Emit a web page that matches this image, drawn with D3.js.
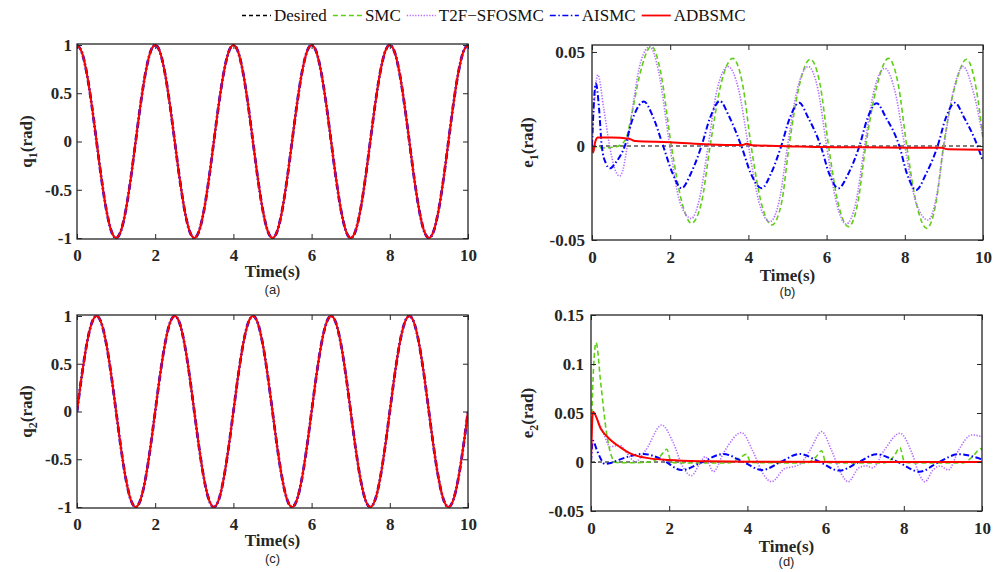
<!DOCTYPE html>
<html>
<head>
<meta charset="utf-8">
<script src="https://cdn.jsdelivr.net/npm/d3@7"></script>
<style>
  body { margin: 0; background: #fff; }
  svg { display: block; }
  .axis text { font-family: "Liberation Serif", "Times New Roman", serif; font-weight: bold; font-size: 17px; fill: #262626; }
  .axis line { stroke: #262626; stroke-width: 1; }
  .axis .domain { display: none; }
  .ylabel, .xlabel { font-family: "Liberation Serif", "Times New Roman", serif; font-weight: bold; font-size: 17px; fill: #262626; }
  .tag { font-family: "Liberation Sans", Arial, sans-serif; font-size: 13px; fill: #262626; }
  .legend text { font-family: "Liberation Serif", "Times New Roman", serif; font-size: 17px; fill: #111; }
</style>
</head>
<body>
<div id="chart"></div>
<script>
/* Series names and styles. */
const seriesNames = ["Desired", "SMC", "T2F\u2212SFOSMC", "AISMC", "ADBSMC"]
const seriesColors = ["#000000", "#5fcf16", "#b46cff", "#0000ff", "#ff0000"]
const seriesDash = ["4,3", "5,3", "1.3,1.5", "6,2.5,1.5,2.5", null]
const seriesWidth = [1.2, 1.6, 1.6, 2, 2]

/* Ticks. */
const timeTicks = [0, 2, 4, 6, 8, 10]
const qTicks = [-1, -0.5, 0, 0.5, 1]
const e1Ticks = [-0.05, 0, 0.05]
const e2Ticks = [-0.05, 0, 0.05, 0.1, 0.15]

const qTime = [
  0, 0.125, 0.25, 0.375, 0.5, 0.625, 0.75, 0.875, 1, 1.125, 1.25, 1.375, 1.5, 1.625, 1.75, 1.875,
  2, 2.125, 2.25, 2.375, 2.5, 2.625, 2.75, 2.875, 3, 3.125, 3.25, 3.375, 3.5, 3.625, 3.75, 3.875,
  4, 4.125, 4.25, 4.375, 4.5, 4.625, 4.75, 4.875, 5, 5.125, 5.25, 5.375, 5.5, 5.625, 5.75, 5.875,
  6, 6.125, 6.25, 6.375, 6.5, 6.625, 6.75, 6.875, 7, 7.125, 7.25, 7.375, 7.5, 7.625, 7.75, 7.875,
  8, 8.125, 8.25, 8.375, 8.5, 8.625, 8.75, 8.875, 9, 9.125, 9.25, 9.375, 9.5, 9.625, 9.75, 9.875, 10]
const q1Values = [
  1, 0.924, 0.707, 0.383, 0, -0.383, -0.707, -0.924, -1, -0.924, -0.707, -0.383, 0, 0.383, 0.707, 0.924,
  1, 0.924, 0.707, 0.383, 0, -0.383, -0.707, -0.924, -1, -0.924, -0.707, -0.383, 0, 0.383, 0.707, 0.924,
  1, 0.924, 0.707, 0.383, 0, -0.383, -0.707, -0.924, -1, -0.924, -0.707, -0.383, 0, 0.383, 0.707, 0.924,
  1, 0.924, 0.707, 0.383, 0, -0.383, -0.707, -0.924, -1, -0.924, -0.707, -0.383, 0, 0.383, 0.707, 0.924,
  1, 0.924, 0.707, 0.383, 0, -0.383, -0.707, -0.924, -1, -0.924, -0.707, -0.383, 0, 0.383, 0.707, 0.924, 1]
const q2Values = [
  0, 0.383, 0.707, 0.924, 1, 0.924, 0.707, 0.383, 0, -0.383, -0.707, -0.924, -1, -0.924, -0.707, -0.383,
  0, 0.383, 0.707, 0.924, 1, 0.924, 0.707, 0.383, 0, -0.383, -0.707, -0.924, -1, -0.924, -0.707, -0.383,
  0, 0.383, 0.707, 0.924, 1, 0.924, 0.707, 0.383, 0, -0.383, -0.707, -0.924, -1, -0.924, -0.707, -0.383,
  0, 0.383, 0.707, 0.924, 1, 0.924, 0.707, 0.383, 0, -0.383, -0.707, -0.924, -1, -0.924, -0.707, -0.383,
  0, 0.383, 0.707, 0.924, 1, 0.924, 0.707, 0.383, 0, -0.383, -0.707, -0.924, -1, -0.924, -0.707, -0.383, 0]

/* Tracking error e1 as [time, value] points (panel b). */
const e1Desired = [[0, 0], [10, 0]]
const e1SMC = [[0, 0], [0.3, -0.001], [0.6, -0.0005], [0.85, 0.003], [1.0, 0.015], [1.2, 0.036], [1.52, 0.053],
  [1.75, 0.04], [2.03, 0], [2.3, -0.03], [2.54, -0.0411], [2.8, -0.03], [3.02, 0], [3.3, 0.033], [3.6, 0.0466],
  [3.85, 0.033], [4.07, 0], [4.35, -0.032], [4.6, -0.042], [4.85, -0.03], [5.04, 0], [5.3, 0.032], [5.58, 0.0461],
  [5.83, 0.033], [6.05, 0], [6.3, -0.031], [6.56, -0.0429], [6.8, -0.03], [7.0, 0], [7.3, 0.033], [7.58, 0.0466],
  [7.83, 0.033], [8.05, 0], [8.3, -0.031], [8.56, -0.0438], [8.8, -0.03], [8.99, 0], [9.3, 0.033], [9.58, 0.0461],
  [9.83, 0.03], [10, 0.004]]
const e1T2F = [[0, 0], [0.05, 0.02], [0.15, 0.0378], [0.3, 0.02], [0.45, 0], [0.58, -0.012], [0.71, -0.016],
  [0.8, -0.012], [0.9, 0], [1.05, 0.022], [1.25, 0.045], [1.48, 0.0528], [1.7, 0.04], [1.99, 0], [2.25, -0.03],
  [2.54, -0.0385], [2.75, -0.028], [2.97, 0], [3.2, 0.03], [3.48, 0.0422], [3.75, 0.03], [4.0, 0], [4.3, -0.032],
  [4.55, -0.0403], [4.8, -0.028], [5.0, 0], [5.25, 0.03], [5.53, 0.0422], [5.78, 0.03], [6.0, 0], [6.25, -0.03],
  [6.5, -0.0415], [6.75, -0.03], [6.97, 0], [7.22, 0.03], [7.49, 0.0413], [7.75, 0.029], [8.0, 0], [8.3, -0.031],
  [8.6, -0.0394], [8.8, -0.028], [9.0, 0], [9.25, 0.03], [9.49, 0.0422], [9.75, 0.029], [10, 0.0044]]
const e1AISMC = [[0, 0], [0.04, 0.02], [0.1, 0.0333], [0.18, 0.02], [0.25, 0], [0.35, -0.009], [0.46, -0.0119],
  [0.6, -0.009], [0.84, 0], [1.05, 0.015], [1.33, 0.0236], [1.55, 0.016], [1.82, 0], [2.05, -0.014], [2.29, -0.0225],
  [2.52, -0.015], [2.8, 0], [3.02, 0.015], [3.27, 0.0239], [3.5, 0.016], [3.82, 0], [4.07, -0.015], [4.34, -0.0225],
  [4.57, -0.015], [4.84, 0], [5.06, 0.015], [5.3, 0.023], [5.53, 0.015], [5.85, 0], [6.07, -0.015], [6.3, -0.0225],
  [6.55, -0.015], [6.84, 0], [7.05, 0.015], [7.28, 0.0227], [7.52, 0.015], [7.86, 0], [8.06, -0.015], [8.29, -0.0234],
  [8.54, -0.015], [8.84, 0], [9.05, 0.015], [9.28, 0.023], [9.52, 0.015], [9.86, 0], [10, -0.0083]]
const e1ADBSMC = [[0, 0], [0.03, -0.0035], [0.08, 0.002], [0.15, 0.0045], [0.5, 0.0045], [0.95, 0.0038],
  [1.1, 0.0026], [2, 0.002], [3, 0.0008], [3.85, 0.0005], [3.95, 0.0012], [4.1, 0.0004], [5, -0.0001],
  [6, -0.0006], [7, -0.0007], [8, -0.0009], [8.95, -0.001], [9.1, -0.0018], [10, -0.002]]

/* Tracking error e2 as [time, value] points (panel d). */
const e2Desired = [[0, 0], [10, 0]]
const e2SMC = [[0, 0], [0.03, 0.06], [0.13, 0.1218], [0.25, 0.08], [0.4, 0.029], [0.53, 0.0054], [0.65, -0.0005],
  [1.0, -0.0008], [1.5, 0], [1.75, 0.005], [1.94, 0.013], [2.05, 0], [2.2, -0.001], [3.5, -0.001], [3.8, 0.004],
  [3.98, 0.008], [4.08, -0.0005], [5.5, -0.001], [5.75, 0.005], [5.9, 0.0115], [6.0, 0], [6.2, -0.001],
  [7.5, -0.001], [7.75, 0.006], [7.9, 0.0146], [8.02, 0], [8.2, -0.001], [9.5, -0.001], [9.75, 0.005],
  [9.97, 0.0136], [10, 0.012]]
const e2T2F = [[0, 0], [0.04, 0.05], [0.1, 0.048], [0.32, 0.029], [0.49, 0.0156], [0.74, 0.017], [0.9, 0.01],
  [1.13, 0.0003], [1.4, 0.012], [1.81, 0.0378], [2.1, 0.02], [2.35, -0.005], [2.57, -0.014], [2.75, -0.004],
  [2.92, 0.0054], [3.13, -0.0099], [3.4, 0.01], [3.85, 0.03], [4.15, 0.01], [4.4, -0.012], [4.62, -0.0201],
  [4.96, -0.0065], [5.15, -0.005], [5.35, -0.002], [5.6, 0.012], [5.9, 0.031], [6.15, 0.012], [6.4, -0.012],
  [6.58, -0.0201], [6.85, -0.006], [7.05, -0.004], [7.2, -0.006], [7.5, 0.012], [7.9, 0.0293], [8.2, 0.01],
  [8.4, -0.013], [8.54, -0.0201], [8.75, -0.008], [8.93, -0.0041], [9.14, -0.0082], [9.4, 0.012], [9.74, 0.0276],
  [10, 0.0259]]
const e2AISMC = [[0, 0], [0.05, 0.0218], [0.15, 0.012], [0.36, -0.002], [0.5, -0.001], [0.66, 0.0014], [1.0, 0.006],
  [1.34, 0.0082], [1.8, 0.003], [2.32, -0.0082], [2.85, 0], [3.38, 0.0082], [3.9, 0], [4.37, -0.0082], [4.85, 0],
  [5.33, 0.0082], [5.85, 0], [6.35, -0.0088], [6.85, 0], [7.3, 0.0079], [7.85, 0], [8.4, -0.0099], [8.9, 0],
  [9.4, 0.0079], [10, 0.0027]]
const e2ADBSMC = [[0, 0], [0.05, 0.0514], [0.25, 0.034], [0.5, 0.0224], [0.75, 0.015], [1, 0.0088], [1.5, 0.0037],
  [2, 0.002], [3, 0.0007], [4, 0.0002], [10, 0]]

/* Build [time, value] pairs for the joint curves. */
const zipTime = (values) => qTime.map((t, i) => [t, values[i]])
const q1Curve = zipTime(q1Values)
const q2Curve = zipTime(q2Values)

/* Define the four panels. */
const panels = [
  { tag: "(a)", sub: "1", letter: "q", left: 77, right: 468, top: 44, bottom: 239, yDomain: [-1.01, 1.01],
    yTicks: qTicks, pad: 5, tickPad: 10, timeOff: 38, tagOff: 55, q: true,
    data: [q1Curve, q1Curve, q1Curve, q1Curve, q1Curve] },
  { tag: "(b)", sub: "1", letter: "e", left: 592, right: 983, top: 45, bottom: 240, yDomain: [-0.05, 0.0537],
    yTicks: e1Ticks, pad: 7, tickPad: 11, timeOff: 41, tagOff: 56, q: false,
    data: [e1Desired, e1SMC, e1T2F, e1AISMC, e1ADBSMC] },
  { tag: "(c)", sub: "2", letter: "q", left: 77, right: 468, top: 315, bottom: 508, yDomain: [-1.01, 1.01],
    yTicks: qTicks, pad: 5, tickPad: 10, timeOff: 38, tagOff: 55, q: true,
    data: [q2Curve, q2Curve, q2Curve, q2Curve, q2Curve] },
  { tag: "(d)", sub: "2", letter: "e", left: 591, right: 982, top: 315, bottom: 511, yDomain: [-0.05, 0.15],
    yTicks: e2Ticks, pad: 7, tickPad: 11, timeOff: 41, tagOff: 55, q: false,
    data: [e2Desired, e2SMC, e2T2F, e2AISMC, e2ADBSMC] }
]

/* Create svg-element. */
const svg = d3.select("#chart")
  .append("svg")
  .attr("width", 1001)
  .attr("height", 572)

svg.append("rect").attr("width", 1001).attr("height", 572).attr("fill", "#fff")

/* Draw one panel. */
const drawPanel = (p, idx) => {
  const x = d3.scaleLinear().domain([0, 10]).range([p.left, p.right])
  const y = d3.scaleLinear().domain(p.yDomain).range([p.bottom, p.top])
  const fmt = (d) => String(d)

  const clipId = "clip" + idx
  svg.append("clipPath").attr("id", clipId)
    .append("rect")
    .attr("x", p.left).attr("y", p.top)
    .attr("width", p.right - p.left).attr("height", p.bottom - p.top)

  /* Curves. */
  const line = d3.line()
    .x(d => x(d[0]))
    .y(d => y(d[1]))
    .curve(d3.curveMonotoneX)

  const g = svg.append("g").attr("clip-path", `url(#${clipId})`)
  p.data.forEach((series, i) => {
    let w = seriesWidth[i]
    if (p.q && i == 3) w = 2.8
    g.append("path")
      .datum(series)
      .attr("fill", "none")
      .attr("stroke", seriesColors[i])
      .attr("stroke-width", w)
      .attr("stroke-dasharray", seriesDash[i])
      .attr("d", line)
  })

  /* Axes with inward ticks on all four sides. */
  svg.append("g").attr("class", "axis")
    .attr("transform", `translate(0,${p.bottom})`)
    .call(d3.axisBottom(x).tickValues(timeTicks).tickFormat(fmt).tickSize(-5).tickPadding(p.tickPad))
  svg.append("g").attr("class", "axis")
    .attr("transform", `translate(0,${p.top})`)
    .call(d3.axisTop(x).tickValues(timeTicks).tickFormat("").tickSize(-5))
  svg.append("g").attr("class", "axis")
    .attr("transform", `translate(${p.left},0)`)
    .call(d3.axisLeft(y).tickValues(p.yTicks).tickFormat(fmt).tickSize(-5).tickPadding(p.pad))
  svg.append("g").attr("class", "axis")
    .attr("transform", `translate(${p.right},0)`)
    .call(d3.axisRight(y).tickValues(p.yTicks).tickFormat("").tickSize(-5))

  svg.append("rect")
    .attr("x", p.left).attr("y", p.top)
    .attr("width", p.right - p.left).attr("height", p.bottom - p.top)
    .attr("fill", "none")
    .attr("stroke", "#262626")
    .attr("stroke-width", 1.3)

  /* Axis labels. */
  const midX = (p.left + p.right) / 2
  const midY = (p.top + p.bottom) / 2
  svg.append("text").attr("class", "xlabel")
    .attr("x", midX).attr("y", p.bottom + p.timeOff)
    .attr("text-anchor", "middle")
    .text("Time(s)")
  svg.append("text").attr("class", "tag")
    .attr("x", midX).attr("y", p.bottom + p.tagOff)
    .attr("text-anchor", "middle")
    .text(p.tag)

  const labelX = p.q ? 32 : 533
  const yl = svg.append("text").attr("class", "ylabel")
    .attr("transform", `translate(${labelX},${midY}) rotate(-90)`)
    .attr("text-anchor", "middle")
  yl.append("tspan").text(p.letter)
  yl.append("tspan").attr("font-size", "12px").attr("dy", 5).text(p.sub)
  yl.append("tspan").attr("dy", -5).text("(rad)")
}

panels.forEach(drawPanel)

/* Legend across the top. */
const legend = svg.append("g").attr("class", "legend")
let lx = 242
seriesNames.forEach((name, i) => {
  legend.append("line")
    .attr("x1", lx).attr("x2", lx + 29)
    .attr("y1", 15.5).attr("y2", 15.5)
    .attr("stroke", seriesColors[i])
    .attr("stroke-width", i == 4 ? 1.8 : 1.4)
    .attr("stroke-dasharray", seriesDash[i])
  const t = legend.append("text")
    .attr("x", lx + 32).attr("y", 21)
    .text(name)
  lx = lx + 32 + t.node().getComputedTextLength() + 6
})
</script>
</body>
</html>
